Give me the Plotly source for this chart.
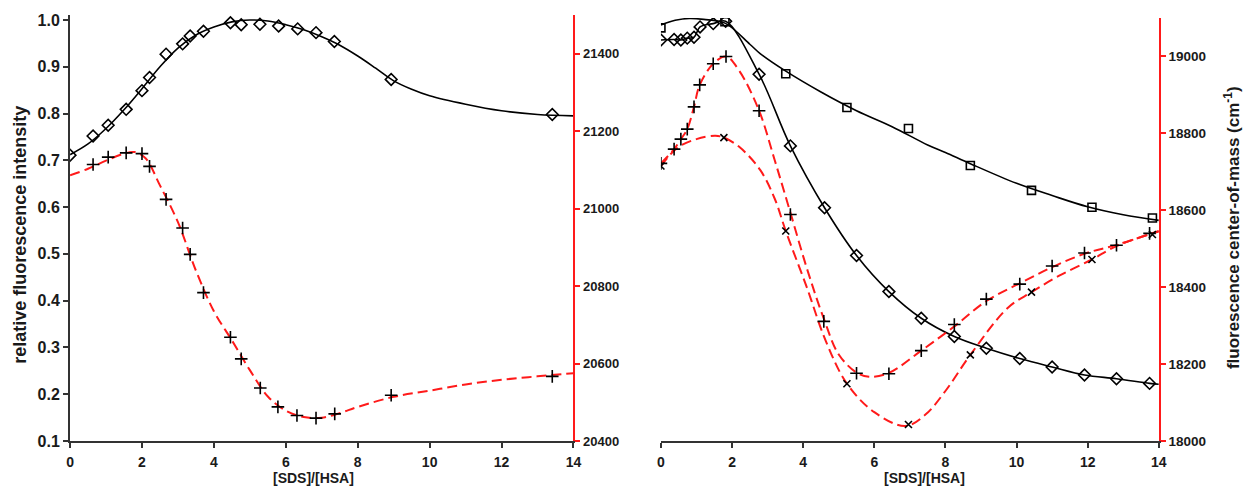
import plotly.graph_objects as go

# ---------------- Left panel data ----------------
L_dia_x = [0, 0.64, 1.06, 1.56, 2.0, 2.21, 2.67, 3.13, 3.34, 3.71, 4.46, 4.76, 5.28, 5.80, 6.33, 6.84, 7.35, 8.93, 13.41]
L_dia_y = [0.711, 0.752, 0.775, 0.809, 0.849, 0.877, 0.927, 0.949, 0.966, 0.976, 0.994, 0.990, 0.991, 0.987, 0.981, 0.973, 0.954, 0.873, 0.798]
L_fit_x = [0, 0.5, 1, 1.5, 2, 2.5, 3, 3.5, 4, 4.5, 5, 5.5, 6, 6.5, 7, 7.5, 8, 8.5, 9, 9.5, 10, 11, 12, 13, 14]
L_fit_y = [0.712, 0.735, 0.768, 0.808, 0.853, 0.900, 0.940, 0.968, 0.985, 0.996, 1.0, 0.998, 0.990, 0.979, 0.964, 0.946, 0.923, 0.897, 0.870, 0.852, 0.838, 0.820, 0.806, 0.798, 0.795]

L_plus_x = [0.64, 1.06, 1.56, 2.0, 2.21, 2.67, 3.13, 3.34, 3.71, 4.46, 4.76, 5.29, 5.78, 6.31, 6.84, 7.36, 8.93, 13.41]
L_plus_y = [21114, 21133, 21144, 21142, 21109, 21024, 20950, 20882, 20783, 20668, 20612, 20537, 20488, 20466, 20459, 20470, 20518, 20567]
L_rfit_x = [0, 0.5, 1, 1.5, 1.8, 2.1, 2.5, 3, 3.5, 4, 4.5, 5, 5.5, 6, 6.5, 7, 7.5, 8, 9, 10, 11, 12, 13, 14]
L_rfit_y = [21086, 21103, 21124, 21142, 21146, 21130, 21060, 20965, 20840, 20735, 20660, 20583, 20515, 20478, 20462, 20460, 20472, 20488, 20514, 20530, 20546, 20558, 20567, 20575]

# ---------------- Right panel data ----------------
R_dia_x = [0, 0.37, 0.56, 0.74, 0.93, 1.10, 1.47, 1.82, 2.76, 3.64, 4.60, 5.50, 6.41, 7.32, 8.25, 9.15, 10.09, 11.0, 11.91, 12.81, 13.74]
R_dia_y = [0.956, 0.957, 0.956, 0.960, 0.962, 0.984, 0.991, 0.996, 0.883, 0.730, 0.598, 0.496, 0.419, 0.362, 0.323, 0.298, 0.276, 0.258, 0.241, 0.233, 0.223]
R_dfit_x = [0, 0.37, 0.56, 0.74, 0.93, 1.10, 1.47, 1.82, 2.76, 3.64, 4.60, 5.50, 6.41, 7.32, 8.25, 9.15, 10.09, 11.0, 11.91, 12.81, 13.74, 14]
R_dfit_y = [0.956, 0.957, 0.956, 0.960, 0.962, 0.984, 0.991, 0.996, 0.883, 0.730, 0.598, 0.496, 0.419, 0.362, 0.323, 0.298, 0.276, 0.258, 0.241, 0.233, 0.223, 0.221]

R_sq_x = [0, 1.80, 3.51, 5.23, 6.96, 8.70, 10.42, 12.12, 13.82]
R_sq_y = [0.982, 0.995, 0.884, 0.812, 0.767, 0.688, 0.635, 0.599, 0.576]
R_sfit_x = [0, 0.4, 0.8, 1.2, 1.8, 2.5, 2.79, 3.5, 4.5, 5.5, 6.5, 7.5, 8.0, 8.7, 10, 11, 12, 13, 14]
R_sfit_y = [0.988, 0.998, 1.002, 1.0, 0.992, 0.947, 0.927, 0.890, 0.845, 0.805, 0.771, 0.732, 0.716, 0.692, 0.650, 0.624, 0.600, 0.583, 0.571]

R_plus_x = [0, 0.37, 0.56, 0.74, 0.93, 1.09, 1.47, 1.83, 2.76, 3.64, 4.58, 5.50, 6.41, 7.32, 8.25, 9.15, 10.09, 11.0, 11.91, 12.81, 13.74]
R_plus_y = [18722, 18759, 18785, 18811, 18869, 18926, 18981, 19000, 18859, 18589, 18311, 18176, 18175, 18235, 18303, 18369, 18408, 18455, 18489, 18509, 18540]
R_pfit_x = [0, 0.37, 0.56, 0.74, 0.93, 1.09, 1.47, 1.83, 2.2, 2.76, 3.2, 3.64, 4.1, 4.58, 5.0, 5.5, 5.85, 6.41, 7.32, 8.25, 9.15, 10.09, 11.0, 11.91, 12.81, 14]
R_pfit_y = [18722, 18759, 18785, 18811, 18869, 18926, 18981, 19000, 18963, 18859, 18730, 18594, 18450, 18318, 18225, 18178, 18167, 18177, 18235, 18298, 18364, 18410, 18452, 18487, 18510, 18546]

R_x_x = [0, 1.77, 3.51, 5.23, 6.96, 8.70, 10.42, 12.12, 13.82]
R_x_y = [18715, 18789, 18546, 18149, 18043, 18224, 18387, 18472, 18537]
R_xfit_x = [0, 0.47, 1.0, 1.53, 1.77, 2.2, 2.79, 3.2, 3.51, 4.1, 4.64, 5.23, 6.0, 6.87, 7.43, 8.0, 8.7, 9.75, 10.42, 11.2, 12.12, 12.81, 14]
R_xfit_y = [18715, 18763, 18785, 18794, 18789, 18765, 18705, 18630, 18546, 18400, 18259, 18149, 18075, 18039, 18068, 18130, 18224, 18346, 18387, 18430, 18472, 18507, 18545]

x_ticks = [0, 2, 4, 6, 8, 10, 12, 14]
L_ticks = [0.1, 0.2, 0.3, 0.4, 0.5, 0.6, 0.7, 0.8, 0.9, 1.0]
L_r_ticks = [20400, 20600, 20800, 21000, 21200, 21400]
R_r_ticks = [18000, 18200, 18400, 18600, 18800, 19000]

RED = "#ff1a1a"
FONT = "Liberation Sans"
DASH = "10px,5px"
TXT = "#1a1a1a"

fig = go.Figure()

def black_line(x, y, xa, ya):
    fig.add_trace(go.Scatter(x=x, y=y, mode="lines", xaxis=xa, yaxis=ya,
                             line=dict(color="black", width=1.6, shape="spline", smoothing=1.0),
                             showlegend=False, hoverinfo="skip"))

def red_line(x, y, xa, ya):
    fig.add_trace(go.Scatter(x=x, y=y, mode="lines", xaxis=xa, yaxis=ya,
                             line=dict(color=RED, width=2, dash=DASH, shape="spline", smoothing=1.0),
                             showlegend=False, hoverinfo="skip"))

def marks(x, y, xa, ya, sym, size):
    fig.add_trace(go.Scatter(x=x, y=y, mode="markers", xaxis=xa, yaxis=ya,
                             marker=dict(symbol=sym, size=size, color="black",
                                         line=dict(color="black", width=1.6)),
                             showlegend=False))

# Left panel
black_line(L_fit_x, L_fit_y, "x", "y")
red_line(L_rfit_x, L_rfit_y, "x", "y2")
marks(L_dia_x, L_dia_y, "x", "y", "diamond-open", 9)
marks(L_plus_x, L_plus_y, "x", "y2", "cross-thin", 9)

# Right panel
black_line(R_sfit_x, R_sfit_y, "x2", "y3")
black_line(R_dfit_x, R_dfit_y, "x2", "y3")
red_line(R_pfit_x, R_pfit_y, "x2", "y4")
red_line(R_xfit_x, R_xfit_y, "x2", "y4")
marks(R_sq_x, R_sq_y, "x2", "y3", "square-open", 8)
marks(R_dia_x, R_dia_y, "x2", "y3", "diamond-open", 9)
marks(R_plus_x, R_plus_y, "x2", "y4", "cross-thin", 9)
marks(R_x_x, R_x_y, "x2", "y4", "x-thin", 7)

W, H = 1251, 487
mt, mb = 15, 46
ph = H - mt - mb

def bfont(size):
    return dict(family=FONT, size=size, color=TXT, weight="bold")

xcommon = dict(range=[0, 14], tickvals=x_ticks,
               ticktext=[f"<b>{v}</b>" for v in x_ticks],
               showgrid=False, zeroline=False,
               showline=True, linecolor="#333333", linewidth=2, ticks="outside",
               ticklen=5, tickwidth=2, tickcolor="#333333", tickfont=bfont(14),
               ticklabelstandoff=2)

fig.update_layout(
    width=W, height=H,
    margin=dict(l=0, r=0, t=mt, b=mb),
    plot_bgcolor="white", paper_bgcolor="white",
    font=dict(family=FONT),
    xaxis=dict(domain=[66.7 / W, 575 / W], anchor="y", **xcommon),
    yaxis=dict(domain=[0, 1], anchor="x", range=[0.1, 1.0107], tickvals=L_ticks,
               ticktext=[f"<b>{v:.1f}</b>" for v in L_ticks], showgrid=False, zeroline=False,
               showline=True, linecolor="#333333", linewidth=2, ticks="outside",
               ticklen=5, tickwidth=2, tickcolor="#333333", tickfont=bfont(16)),
    yaxis2=dict(overlaying="y", anchor="x", side="right", range=[20400, 21500],
                tickvals=L_r_ticks, ticktext=[f"<b>{v}</b>" for v in L_r_ticks],
                showgrid=False, zeroline=False, showline=True,
                linecolor=RED, linewidth=2, ticks="outside", ticklen=5, tickwidth=2,
                tickcolor=RED, tickfont=bfont(13)),
    xaxis2=dict(domain=[663.3 / W, 1166 / W], anchor="y3", **xcommon),
    yaxis3=dict(domain=[0, (H - mb - 18) / ph], anchor="x2", range=[0.1, 1.003],
                visible=False, showgrid=False, zeroline=False),
    yaxis4=dict(overlaying="y3", anchor="x2", side="right", range=[18000, 19100],
                tickvals=R_r_ticks, ticktext=[f"<b>{v}</b>" for v in R_r_ticks],
                showgrid=False, zeroline=False, showline=True,
                linecolor=RED, linewidth=2, ticks="outside", ticklen=5, tickwidth=2,
                tickcolor=RED, tickfont=bfont(13.5)),
)

def ann_px(text, xpx, ypx, angle=0, size=14):
    fig.add_annotation(text=text, xref="paper", yref="paper",
                       x=xpx / W, y=(H - mb - ypx) / ph,
                       showarrow=False, textangle=angle,
                       font=bfont(size),
                       xanchor="center", yanchor="middle")

ann_px("relative fluorescence intensity", 16, 235, angle=-90, size=18)
ann_px("fluorescence center-of-mass (cm<sup>-1</sup>)", 1240, 228, angle=-90, size=17)
ann_px("[SDS]/[HSA]", 312, 478, size=14)
ann_px("[SDS]/[HSA]", 929, 478, size=14)

fig.write_html("out.html")
